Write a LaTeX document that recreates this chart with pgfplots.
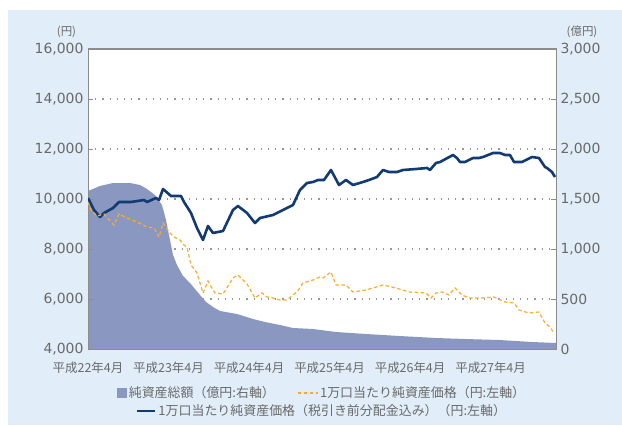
\documentclass[border=0pt]{standalone}
\usepackage{pgfplots}
\pgfplotsset{compat=1.18}
\usepackage{fontspec}
\setmainfont{DejaVu Sans}
\newfontfamily\jp{Noto Sans CJK JP}
\definecolor{bgblue}{RGB}{225,238,249}
\definecolor{areablue}{RGB}{138,151,192}
\definecolor{navyline}{RGB}{18,58,115}
\definecolor{orangeline}{RGB}{248,172,48}
\definecolor{tickgray}{RGB}{105,105,105}
\definecolor{framegray}{RGB}{140,140,140}
\definecolor{gridgray}{RGB}{150,150,150}
\begin{document}
\begin{tikzpicture}[x=1bp,y=1bp]
\fill[white] (0,0) rectangle (622,425);
\fill[bgblue] (8,0) rectangle (622,415);
\pgfplotsset{
  common/.style={
    scale only axis, width=468bp, height=300bp,
    at={(88bp,76bp)}, anchor=south west,
    xmin=0, xmax=69.75,
    scaled x ticks=false, scaled y ticks=false,
    axis line style={framegray, line width=1bp},
    tick style={framegray, line width=0.9bp},
    tick align=inside, major tick length=5bp,
    yticklabel={\pgfmathprintnumber[1000 sep={,},assume math mode=true]{\tick}},
  },
}
% right axis: net assets (area), x axis, grid
\begin{axis}[common,
  axis background/.style={fill=white},
  ymin=0, ymax=3000, ytick={0,500,...,3000},
  ytick pos=right, yticklabel pos=right,
  xtick={0,12,24,36,48,60}, xtick pos=bottom,
  xticklabels={平成22年4月,平成23年4月,平成24年4月,平成25年4月,平成26年4月,平成27年4月},
  xticklabel style={font=\jp\fontsize{12.5}{14}\selectfont, text=tickgray, yshift=-9bp},
  yticklabel style={font=\fontsize{14}{16}\selectfont, text=tickgray, xshift=1bp},
  ymajorgrids,
  grid style={gridgray, line width=1.1bp, dash pattern=on 1.2bp off 6bp},
  legend columns=2,
  legend style={at={(0.5,-0.1467)}, anchor=center, draw=none, fill=none,
    font=\jp\fontsize{13}{15}\selectfont, text=tickgray,
    /tikz/every even column/.append style={column sep=20bp},
    nodes={inner sep=2bp}},
]
\addplot[fill=areablue, draw=none,
  legend image code/.code={\fill[areablue] (0bp,-5bp) rectangle (10bp,5bp);}]
coordinates {
(0,1580) (1.79,1630) (3.73,1660) (6.26,1660) (7.75,1640) (8.79,1600)
(9.98,1540) (11.03,1440) (11.62,1290) (12.22,1090) (12.67,940) (13.26,840)
(14.16,730) (15.20,660) (16.69,540) (17.59,470) (18.63,420) (19.67,380)
(22.21,350) (24.59,300) (26.38,270) (28.61,240) (30.55,210) (33.53,200)
(36.96,170) (41.43,150) (46.35,130) (51.86,110) (56.18,100) (61.25,90)
(66.17,70) (69.75,60)
} \closedcycle;
\addlegendentry{純資産総額（億円:右軸）}
\addlegendimage{legend image code/.code={\draw[orangeline, line width=1.2bp, dash pattern=on 3.5bp off 2.5bp] (0bp,0bp) -- (20bp,0bp);}}
\addlegendentry{1万口当たり純資産価格（円:左軸）}
\end{axis}
% left axis: prices
\begin{axis}[common,
  ymin=4000, ymax=16000, ytick={4000,6000,...,16000},
  ytick pos=left, xtick=\empty,
  yticklabel style={font=\fontsize{14}{16}\selectfont, text=tickgray, xshift=-1bp},
  legend style={at={(0.5,-0.2067)}, anchor=center, draw=none, fill=none,
    font=\jp\fontsize{13}{15}\selectfont, text=tickgray,
    nodes={inner sep=2bp}},
]
\addplot[navyline, line width=2.6bp, line join=round,
  legend image code/.code={\draw[navyline, line width=2.5bp] (0bp,0bp) -- (18bp,0bp);}]
coordinates {
(0,10040) (0.89,9560) (1.79,9280) (2.38,9440) (3.73,9640) (4.62,9880)
(5.22,9880) (6.41,9880) (8.35,9960) (8.79,9880) (10.13,10040) (10.58,9960)
(11.18,10400) (12.37,10120) (13.86,10120) (14.31,9880) (15.35,9440)
(16.24,8840) (17.14,8360) (17.88,8920) (18.63,8640) (20.12,8720)
(21.61,9560) (22.35,9720) (23.70,9440) (24.89,9040) (25.63,9240)
(27.57,9360) (29.06,9560) (30.55,9760) (31.59,10360) (32.64,10640)
(33.53,10680) (34.28,10760) (35.17,10760) (36.21,11160) (37.41,10560)
(38.45,10760) (39.49,10560) (40.98,10680) (41.88,10760) (43.07,10880)
(43.96,11160) (44.86,11080) (46.05,11080) (46.94,11160) (48.88,11200)
(50.52,11240) (50.97,11160) (51.86,11440) (52.46,11480) (54.40,11760)
(54.99,11640) (55.44,11480) (56.18,11480) (57.38,11640) (58.27,11640)
(58.87,11680) (60.36,11840) (61.40,11840) (62.15,11760) (62.89,11760)
(63.49,11480) (64.68,11480) (66.17,11680) (67.21,11640) (68.11,11280)
(68.41,11240) (69.15,11080) (69.60,10880)
};
\addlegendentry{1万口当たり純資産価格（税引き前分配金込み）（円:左軸）}
\addplot[orangeline, line width=1.2bp, dash pattern=on 3.5bp off 2.5bp, forget plot]
coordinates {
(0,9880) (0.45,9560) (1.34,9320) (2.38,9400) (3.87,8960) (4.62,9400)
(5.81,9240) (7.30,9080) (8.79,8880) (9.84,8840) (10.58,8480) (11.18,9040)
(12.07,8680) (12.82,8480) (13.71,8360) (14.31,8160) (14.75,8080)
(15.35,7360) (16.24,7040) (17.14,6240) (17.88,6720) (18.63,6360)
(18.93,6240) (20.12,6200) (21.61,6840) (22.35,6960) (23.70,6600)
(24.89,6040) (25.93,6240) (26.68,6080) (27.57,6040) (28.61,5960)
(29.66,5960) (30.55,6160) (31.15,6280) (32.04,6640) (33.53,6760)
(34.58,6880) (35.02,6840) (36.21,7080) (36.96,6560) (38.45,6560)
(39.49,6280) (41.43,6360) (43.96,6560) (45.90,6440) (47.84,6280)
(50.37,6240) (51.12,6040) (51.86,6240) (52.76,6280) (53.80,6160)
(54.69,6440) (55.74,6160) (56.78,6040) (58.72,6040) (60.51,6080)
(62.15,5880) (63.49,5840) (64.23,5560) (65.72,5440) (67.21,5480)
(68.11,5040) (68.85,4880) (69.45,4640)
};
\end{axis}
\node[font=\jp\fontsize{11.5}{13}\selectfont, text=tickgray] at (66.5,393) {(円)};
\node[font=\jp\fontsize{11.5}{13}\selectfont, text=tickgray] at (582,393) {(億円)};
\end{tikzpicture}
\end{document}
